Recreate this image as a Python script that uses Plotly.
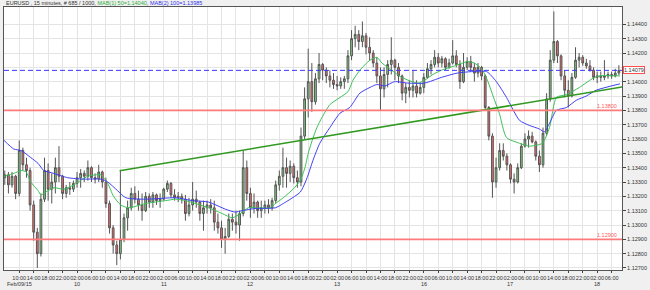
import plotly.graph_objects as go

# x = trading-hour index (weekend removed): Feb 9 00:00 = 0, Feb 10 00:00 = 24 ... Feb 16 00:00 = 120
HOURS = list(range(6, 177))

OPEN = [1.1333,1.1335,1.1328,1.1334,1.1322,1.1352,1.1342,1.1338,1.1314,1.1295,
        1.1280,1.1318,1.1338,1.1325,1.1330,1.1340,1.1334,1.1322,1.1326,1.1325,
        1.1329,1.1333,1.1336,1.1334,1.1340,1.1333,1.1332,1.1337,1.1330,1.1315,
        1.1298,1.1286,1.1280,1.1290,1.1305,1.1312,1.1322,1.1318,1.1314,1.1310,
        1.1320,1.1316,1.1321,1.1317,1.1318,1.1325,1.1329,1.1321,1.1319,1.1320,
        1.1318,1.1308,1.1314,1.1318,1.1316,1.1308,1.1312,1.1314,1.1312,1.1302,
        1.1298,1.1290,1.1292,1.1304,1.1302,1.1300,1.1308,1.1340,1.1322,1.1312,
        1.1316,1.1310,1.1312,1.1314,1.1312,1.1317,1.1328,1.1334,1.1340,1.1336,
        1.1341,1.1333,1.1330,1.1362,1.1388,1.1400,1.1386,1.1402,1.1412,1.1408,
        1.1404,1.1401,1.1398,1.1397,1.1400,1.1402,1.1418,1.1430,1.1433,1.1428,
        1.1432,1.1424,1.1420,1.1413,1.1404,1.1395,1.1405,1.1412,1.1415,1.1410,
        1.1404,1.1392,1.1396,1.1394,1.1397,1.1392,1.1396,1.1403,1.1409,1.1412,
        1.1417,1.1413,1.1416,1.1410,1.1413,1.1418,1.1412,1.1400,1.1410,1.1414,
        1.1410,1.1406,1.1410,1.1404,1.1382,1.1362,1.1330,1.1340,1.1352,1.1348,
        1.1342,1.1332,1.1330,1.1340,1.1355,1.1360,1.1362,1.1358,1.1348,1.1342,
        1.1364,1.1388,1.1415,1.1428,1.1418,1.1404,1.1394,1.1390,1.1403,1.1415,
        1.1417,1.1413,1.1411,1.1408,1.1403,1.1404,1.1403,1.1404,1.1405,1.1404,1.1406]

HIGH = [1.1338,1.1337,1.1337,1.1335,1.1359,1.1354,1.1347,1.1340,1.1317,1.1298,
        1.1322,1.1347,1.1343,1.1336,1.1347,1.1355,1.1335,1.1328,1.1330,1.1331,
        1.1337,1.1339,1.1338,1.1345,1.1341,1.1336,1.1342,1.1338,1.1333,1.1317,
        1.1300,1.1289,1.13379,1.1308,1.1317,1.1326,1.1327,1.1324,1.1322,1.1323,
        1.1322,1.1323,1.1322,1.1322,1.1326,1.1331,1.1330,1.1325,1.1323,1.1322,
        1.1321,1.1319,1.1330,1.1324,1.1317,1.1317,1.1317,1.1318,1.1317,1.1308,
        1.1303,1.1298,1.1308,1.1308,1.1310,1.1310,1.1352,1.1345,1.1326,1.1322,
        1.1317,1.1317,1.1317,1.1318,1.1319,1.1331,1.1338,1.1354,1.1347,1.1345,
        1.1343,1.1338,1.1368,1.1396,1.1423,1.1413,1.1406,1.1420,1.1413,1.1410,
        1.1408,1.1406,1.1404,1.1403,1.1404,1.1422,1.1436,1.1439,1.1436,1.1442,
        1.1434,1.1431,1.1422,1.1417,1.1410,1.1410,1.1415,1.1431,1.1416,1.1413,
        1.1405,1.1399,1.1401,1.1408,1.1401,1.1399,1.1406,1.1413,1.1415,1.1422,
        1.1420,1.1418,1.1417,1.1416,1.1429,1.1422,1.1415,1.1420,1.1417,1.1418,
        1.1413,1.1413,1.1411,1.1405,1.1383,1.1364,1.1347,1.1357,1.1357,1.1350,
        1.1343,1.1336,1.1343,1.1357,1.1364,1.1366,1.1365,1.1359,1.1352,1.1368,
        1.1392,1.1422,1.1449,1.1429,1.1419,1.1408,1.1401,1.1406,1.1424,1.1420,
        1.14185,1.1416,1.1415,1.1410,1.1407,1.1407,1.1415,1.1407,1.1407,1.1409,1.14115]

LOW = [1.1328,1.1322,1.1326,1.1318,1.1320,1.1338,1.1333,1.1310,1.1289,1.1270,
       1.1278,1.1316,1.1317,1.1315,1.1322,1.1330,1.1318,1.1319,1.1321,1.1323,
       1.1326,1.1326,1.1330,1.1331,1.1330,1.1329,1.1330,1.1326,1.1312,1.1294,
       1.1280,1.1272,1.1276,1.1288,1.1296,1.1310,1.1315,1.1310,1.1303,1.1309,
       1.1312,1.1312,1.1314,1.1312,1.1317,1.1323,1.1319,1.1317,1.1316,1.1315,
       1.1303,1.1306,1.1310,1.1312,1.1303,1.1296,1.1308,1.1308,1.1296,1.1294,
       1.1284,1.1280,1.1291,1.1296,1.1294,1.1289,1.1306,1.1317,1.1305,1.1308,
       1.1305,1.1305,1.1308,1.1308,1.1310,1.1315,1.1324,1.1326,1.1326,1.1330,
       1.1329,1.1326,1.1327,1.1360,1.1375,1.1379,1.1384,1.1399,1.1401,1.1399,
       1.1396,1.1395,1.1394,1.1395,1.1395,1.1399,1.1415,1.1424,1.1422,1.1424,
       1.1419,1.1415,1.1410,1.1399,1.1380,1.1389,1.1396,1.1405,1.1401,1.1399,
       1.1387,1.1385,1.1389,1.1389,1.1389,1.1391,1.1392,1.1402,1.1405,1.1410,
       1.1410,1.1410,1.1408,1.1409,1.1412,1.1410,1.1395,1.1399,1.1408,1.1407,
       1.1400,1.1403,1.1401,1.1380,1.1359,1.1319,1.1326,1.1338,1.1345,1.1338,
       1.1329,1.1322,1.1329,1.1339,1.1354,1.1354,1.1357,1.1345,1.1337,1.1340,
       1.1362,1.1386,1.1413,1.1413,1.1401,1.1389,1.1382,1.1389,1.1402,1.1410,
       1.1411,1.1409,1.1407,1.1401,1.1399,1.1400,1.1401,1.1402,1.1402,1.1403,1.14045]

CLOSE = [1.1335,1.1328,1.1334,1.1322,1.1352,1.1342,1.1338,1.1314,1.1295,1.1280,
         1.1318,1.1338,1.1325,1.1330,1.1340,1.1334,1.1322,1.1326,1.1325,1.1329,
         1.1333,1.1336,1.1334,1.1340,1.1333,1.1332,1.1337,1.1330,1.1315,1.1298,
         1.1286,1.1280,1.1290,1.1305,1.1312,1.1322,1.1318,1.1314,1.1310,1.1320,
         1.1316,1.1321,1.1317,1.1318,1.1325,1.1329,1.1321,1.1319,1.1320,1.1318,
         1.1308,1.1314,1.1318,1.1316,1.1308,1.1312,1.1314,1.1312,1.1302,1.1298,
         1.1290,1.1292,1.1304,1.1302,1.1300,1.1308,1.1340,1.1322,1.1312,1.1316,
         1.1310,1.1312,1.1314,1.1312,1.1317,1.1328,1.1334,1.1340,1.1336,1.1341,
         1.1333,1.1330,1.1362,1.1388,1.1400,1.1386,1.1402,1.1412,1.1408,1.1404,
         1.1401,1.1398,1.1397,1.1400,1.1402,1.1418,1.1430,1.1433,1.1428,1.1432,
         1.1424,1.1420,1.1413,1.1404,1.1395,1.1405,1.1412,1.1415,1.1410,1.1404,
         1.1392,1.1396,1.1394,1.1397,1.1392,1.1396,1.1403,1.1409,1.1412,1.1417,
         1.1413,1.1416,1.1410,1.1413,1.1418,1.1412,1.1400,1.1410,1.1414,1.1410,
         1.1406,1.1410,1.1404,1.1382,1.1362,1.1330,1.1340,1.1352,1.1348,1.1342,
         1.1332,1.1330,1.1340,1.1355,1.1360,1.1362,1.1358,1.1348,1.1342,1.1364,
         1.1388,1.1415,1.1428,1.1418,1.1404,1.1394,1.1390,1.1403,1.1415,1.1417,
         1.1413,1.1411,1.1408,1.1403,1.1404,1.1403,1.1404,1.1405,1.1404,1.1406,1.14079]

MA50_X = [5.8,8.5,10.5,11.9,13.2,15.2,16.0,17.4,19.6,22.3,25.1,29.0,32.6,34.5,36.1,38.1,40.3,45.0,
          50.5,53.3,56.0,58.8,62.4,66.2,69.0,71.2,73.4,75.3,79.5,80.9,83.1,85.8,87.8,89.1,90.0,91.1,
          92.4,93.8,96.0,98.8,101.0,102.4,104.3,107.1,109.0,110.4,112.0,115.9,120.3,122.2,124.5,
          126.9,130.5,134.1,136.0,138.0,139.6,141.6,142.9,144.9,148.5,151.2,154.8,156.8,158.7,
          161.5,165.1,168.6,170.5,176.3]
MA50_Y = [1.1334,1.1336,1.1338,1.1337,1.1330,1.1324,1.1321,1.1323,1.1326,1.1325,1.1328,1.1334,1.1335,
          1.1329,1.1320,1.1314,1.1312,1.1315,1.1317,1.1318,1.1317,1.1315,1.1312,1.1308,1.1305,1.1308,
          1.1312,1.1312,1.1312,1.1315,1.1319,1.1325,1.1331,1.1340,1.1350,1.1359,1.1368,1.1375,1.1384,
          1.1389,1.1393,1.1401,1.1408,1.1415,1.1417,1.1413,1.1410,1.1403,1.1399,1.1401,1.1405,1.1408,
          1.1411,1.1414,1.1413,1.1409,1.1401,1.1387,1.1378,1.1361,1.1357,1.1355,1.1357,1.1368,1.1389,
          1.1391,1.1396,1.1402,1.1404,1.1404]

MA100_X = [5.8,8.5,10.5,13.2,15.2,16.8,19.6,23.4,27.9,32.6,34.5,37.2,39.5,45.0,53.3,58.0,62.4,67.1,
           69.8,71.7,75.3,80.9,83.1,87.8,89.7,91.3,93.2,96.0,98.8,101.5,104.3,107.1,109.0,111.2,
           113.9,117.6,122.2,126.9,131.3,135.2,139.4,142.1,144.9,148.5,151.2,154.0,155.4,156.8,
           158.7,161.5,164.2,167.0,169.7,176.3]
MA100_Y = [1.1359,1.1353,1.1352,1.1347,1.1343,1.1338,1.1336,1.1333,1.1332,1.1332,1.1330,1.1324,1.1319,
           1.1318,1.1319,1.1317,1.1316,1.1311,1.1309,1.1310,1.13115,1.1312,1.1315,1.1323,1.1333,1.1345,
           1.1357,1.1368,1.1378,1.1382,1.1392,1.1396,1.1398,1.1397,1.1400,1.1399,1.1399,1.1403,1.1406,
           1.1407,1.1407,1.1400,1.1389,1.1373,1.13695,1.1367,1.1365,1.1371,1.1380,1.1382,1.1387,1.1390,
           1.1394,1.13985]

TREND_X = [37.8, 176.9]
TREND_Y = [1.13379, 1.13963]

LEVELS = [1.13800, 1.12900]
LEVEL_TEXT = ["1.13800", "1.12900"]
LAST_PRICE = 1.14079

PRICE_TICKS = [1.127, 1.128, 1.129, 1.130, 1.131, 1.132, 1.133, 1.134, 1.135,
               1.136, 1.137, 1.138, 1.139, 1.140, 1.141, 1.142, 1.143, 1.144]
# the 1.14100 label is hidden behind the current-price box in the original
PRICE_TICK_TEXT = ["1.12700", "1.12800", "1.12900", "1.13000", "1.13100", "1.13200",
                   "1.13300", "1.13400", "1.13500", "1.13600", "1.13700", "1.13800",
                   "1.13900", "1.14000", "", "1.14200", "1.14300", "1.14400"]

TICK_HOURS = list(range(10, 175, 4))
TICK_TEXT = ["10:00", "14:00", "18:00", "22:00",
             "02:00", "06:00", "10:00", "14:00", "18:00", "22:00",
             "02:00", "06:00", "10:00", "14:00", "18:00", "22:00",
             "02:00", "06:00", "10:00", "14:00", "18:00", "22:00",
             "02:00", "06:00", "10:00", "14:00", "18:00", "22:00",
             "02:00", "06:00", "10:00", "14:00", "18:00", "22:00",
             "02:00", "06:00", "10:00", "14:00", "18:00", "22:00",
             "02:00", "06:00"]
DAY_X = [26, 50, 74, 98, 122, 146, 170]
DAY_TEXT = ["10", "11", "12", "13", "16", "17", "18"]

X_RANGE = [5.78, 176.87]
Y_RANGE = [1.12686, 1.14521]

FONT = "Liberation Sans"

fig = go.Figure()

fig.add_trace(go.Candlestick(
    x=HOURS, open=OPEN, high=HIGH, low=LOW, close=CLOSE,
    increasing=dict(line=dict(color="#555555", width=1), fillcolor="#7ccf7c"),
    decreasing=dict(line=dict(color="#555555", width=1), fillcolor="#ee6b6b"),
    whiskerwidth=0, hoverinfo="skip",
))
fig.add_trace(go.Scatter(x=MA50_X, y=MA50_Y, mode="lines",
                         line=dict(color="#3cbf55", width=1, shape="spline", smoothing=0.6)))
fig.add_trace(go.Scatter(x=MA100_X, y=MA100_Y, mode="lines",
                         line=dict(color="#3f3ff5", width=1, shape="spline", smoothing=0.6)))
fig.add_trace(go.Scatter(x=TREND_X, y=TREND_Y, mode="lines",
                         line=dict(color="#2f9a1e", width=1.6)))

for lv, txt in zip(LEVELS, LEVEL_TEXT):
    fig.add_hline(y=lv, line=dict(color="#ff7a7a", width=1.6))
    fig.add_annotation(x=0.995, xref="paper", y=lv, yref="y", text=txt, showarrow=False,
                       xanchor="right", yanchor="bottom", yshift=-1,
                       font=dict(size=5.5, color="#ff5a5a", family=FONT))

fig.add_hline(y=LAST_PRICE, line=dict(color="#3535ff", width=1, dash="5px,3px"))
fig.add_annotation(x=1, xref="paper", y=LAST_PRICE, yref="y", text="1.14079", showarrow=False,
                   xanchor="left", yanchor="middle", xshift=1,
                   font=dict(size=5.5, color="#333333", family=FONT),
                   bgcolor="white", bordercolor="#ff5050", borderwidth=1, borderpad=0)

plot_h = 290 - 7 - 20
for dx, dt in zip(DAY_X, DAY_TEXT):
    fig.add_annotation(x=dx, xref="x", y=-14 / plot_h, yref="paper", text=dt, showarrow=False,
                       xanchor="center", yanchor="middle",
                       font=dict(size=5.5, color="#333333", family=FONT))
fig.add_annotation(x=0, xref="paper", y=-14 / plot_h, yref="paper", text="Feb/09/15",
                   showarrow=False, xanchor="left", yanchor="middle", xshift=1,
                   font=dict(size=5.5, color="#333333", family=FONT))

fig.add_annotation(x=0, xref="paper", y=1 + 4 / plot_h, yref="paper", showarrow=False,
                   xanchor="left", yanchor="middle",
                   text=("EURUSD , 15 minutes, # 685 / 1000, "
                         "<span style='color:#2fae3c'>MAB(1) 50=1.14040</span>, "
                         "<span style='color:#3333ee'>MAB(2) 100=1.13985</span>"),
                   font=dict(size=5.5, color="#333333", family=FONT))

fig.update_layout(
    width=650, height=290,
    margin=dict(l=3, r=27, t=7, b=20),
    paper_bgcolor="#f0f0f0", plot_bgcolor="white",
    showlegend=False,
    xaxis=dict(range=X_RANGE, tickmode="array", tickvals=TICK_HOURS, ticktext=TICK_TEXT,
               tickangle=0, showgrid=True, gridcolor="#e4e4e4", gridwidth=1,
               ticks="outside", ticklen=2, tickcolor="#444",
               tickfont=dict(size=5.5, family=FONT, color="#333333"),
               showline=True, linecolor="#555555", linewidth=1, mirror=True,
               zeroline=False, rangeslider=dict(visible=False), fixedrange=True),
    yaxis=dict(range=Y_RANGE, side="right", tickmode="array", tickvals=PRICE_TICKS,
               ticktext=PRICE_TICK_TEXT, showgrid=True, gridcolor="#e4e4e4", gridwidth=1,
               ticks="outside", ticklen=3, tickcolor="#444",
               tickfont=dict(size=5.5, family=FONT, color="#333333"),
               showline=True, linecolor="#555555", linewidth=1, mirror=True,
               zeroline=False, fixedrange=True),
)

fig.write_html("out.html")
